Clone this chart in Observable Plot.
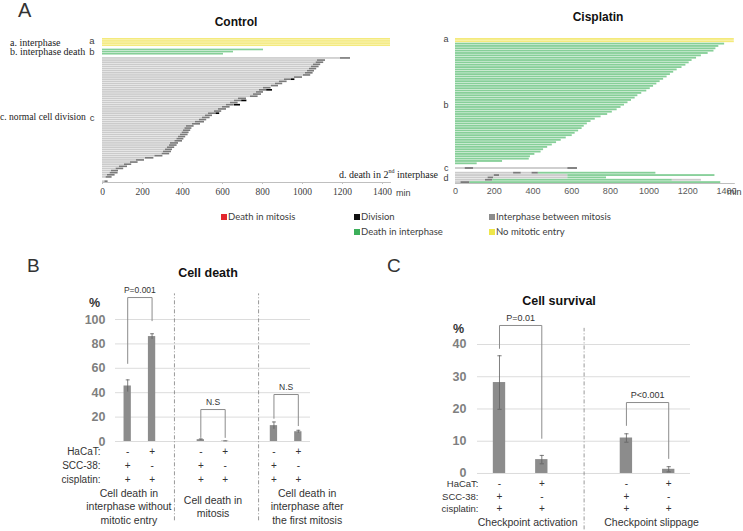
<!DOCTYPE html>
<html><head><meta charset="utf-8">
<script src="https://cdn.jsdelivr.net/npm/d3@7"></script>
<script src="https://cdn.jsdelivr.net/npm/@observablehq/plot@0.6"></script>
<style>
body{margin:0;background:#fff;}
#fig{position:relative;width:743px;height:531px;overflow:hidden;background:#fff;}
.abs{position:absolute;white-space:nowrap;line-height:1;}
</style></head><body><div id="fig"></div>
<script>
// ---------------- DATA ----------------
const minuteTicks = [0,200,400,600,800,1000,1200,1400];
const segKinds  = ["Death in mitosis","Division","Interphase between mitosis","Death in interphase","No mitotic entry","First interphase"];
const segColors = ["#e3262d","#000000","#7a7a7a","#86cf98","#f4ea7c","#cbcbcb"];
const legendColors = ["#e3262d","#111111","#8c8c8c","#3caf5a","#eee64a"];

// Control (panel A, left)
const ctrlNoEntry = [1440,1440,1440,1440];
const ctrlInterphaseDeath = [805,655,605];
const ctrlFirstInterphase = [1190,1075,1068,1055,1045,1035,1025,1015,1005,960,910,885,865,845,805,785,770,755,740,680,660,640,620,600,580,560,530,515,500,485,465,450,420,412,405,398,390,380,372,362,340,335,325,315,305,298,262,215,170,140,110,85,68,45,38,25,18];
const ctrlMitosisLen = [50,40,38,36,38,36,35,38,36,40,35,38,36,35,38,36,35,40,38,40,36,38,35,38,40,36,38,35,38,36,45,40,38,35,36,35,38,36,35,38,40,38,36,35,40,38,40,42,40,38,36,40,38,35,40,38,30];
const ctrlDivision = [[10,945,962],[15,821,850],[20,696,722],[22,658,690],[26,568,586]]; // [cell, start, end]
const ctrlDeath2nd = [[[0,12,"First interphase"],[12,28,"Interphase between mitosis"]]];

// Cisplatin (panel A, right)
const cisNoEntry = [1440,1440];
const cisInterphaseDeath = [1390,1360,1345,1335,1305,1270,1245,1222,1207,1190,1170,1145,1127,1110,1093,1075,1057,1040,1023,1006,988,962,942,928,909,891,873,855,835,810,786,752,722,700,681,665,654,636,618,603,572,546,522,500,476,455,442,410,387,381,243,112];
const cisDivision = [[[0,50,"First interphase"],[50,95,"Interphase between mitosis"],[95,580,"First interphase"],[580,630,"Interphase between mitosis"]]];
const cisDeath2nd = [
  [[0,300,"First interphase"],[300,340,"Interphase between mitosis"],[340,395,"First interphase"],[395,428,"Interphase between mitosis"],[428,1035,"Death in interphase"]],
  [[0,200,"First interphase"],[200,228,"Interphase between mitosis"],[228,580,"First interphase"],[580,1340,"Death in interphase"]],
  [[0,168,"First interphase"],[168,198,"Interphase between mitosis"],[198,580,"First interphase"],[580,780,"Death in interphase"]],
  [[0,155,"First interphase"],[155,192,"Interphase between mitosis"],[192,1120,"Death in interphase"],[1120,1270,"First interphase"]],
  [[0,28,"First interphase"],[28,75,"Interphase between mitosis"],[75,1370,"Death in interphase"]]
];

// Panel B
const bGroups = ["Cell death in\ninterphase without\nmitotic entry","Cell death in\nmitosis","Cell death in\ninterphase after\nthe first mitosis"];
const bTicks = [0,20,40,60,80,100];
const bMean = [45.5,86,1.5,0.3,13,8];
const bErr  = [5,2.3,0.6,0.2,3,1.2];
const bHaCaT = ["-","+","-","+","-","+"];
const bSCC   = ["+","-","+","-","+","-"];
const bCis   = ["+","+","+","+","+","+"];
const bPvals = ["P=0.001","N.S","N.S"];
const bBracketTop   = [118,26.2,38.5];
const bBracketLeft  = [64,3.3,19];
const bBracketRight = [99,3.3,13];

// Panel C
const cGroups = ["Checkpoint activation","Checkpoint slippage"];
const cTicks = [0,10,20,30,40];
const cMean = [28.2,4.3,11,1.3];
const cErr  = [8.3,1.3,1.3,0.8];
const cHaCaT = ["-","+","-","+"];
const cSCC   = ["+","-","+","-"];
const cCis   = ["+","+","+","+"];
const cPvals = ["P=0.01","P<0.001"];
const cBracketTop   = [45.9,22];
const cBracketLeft  = [38.8,14.9];
const cBracketRight = [10.9,4.65];

const rowNames = ["HaCaT:","SCC-38:","cisplatin:"];

// ---------------- HELPERS ----------------
const fig = document.getElementById("fig");
const SANS = "'Liberation Sans', Arial, sans-serif";
const SERIF = "'Liberation Serif', 'Times New Roman', serif";
function txt(html, x, y, o = {}) {
  const d = document.createElement("div");
  d.className = "abs";
  d.innerHTML = html;
  const a = o.anchor || "start";
  Object.assign(d.style, {
    left: x + "px", top: y + "px", fontSize: (o.size || 10) + "px",
    fontWeight: o.weight || "normal", fontFamily: o.family || SANS, color: o.color || "#333",
    transform: `translate(${a === "start" ? 0 : a === "middle" ? -50 : -100}%, -50%)`
  });
  fig.appendChild(d);
}
function put(svg, left, top) {
  svg.style.position = "absolute"; svg.style.left = left + "px"; svg.style.top = top + "px";
  fig.appendChild(svg);
}
const baseStyle = {background: "none", overflow: "visible", fontFamily: SANS};
const colorScale = {domain: segKinds, range: segColors};
const plain = d => String(d);

// ---------------- PANEL A : CONTROL ----------------
const ctrlKeys = [
  ...ctrlNoEntry.map((_, i) => "a" + i), "gap1",
  ...ctrlInterphaseDeath.map((_, i) => "b" + i), "gap2",
  ...ctrlFirstInterphase.map((_, i) => "c" + i), "gap3",
  ...ctrlDeath2nd.map((_, i) => "d" + i)
];
const ctrlSegs = [
  ...ctrlNoEntry.map((v, i) => ({row: "a" + i, x1: 0, x2: v, kind: "No mitotic entry"})),
  ...ctrlInterphaseDeath.map((v, i) => ({row: "b" + i, x1: 0, x2: v, kind: "Death in interphase"})),
  ...ctrlFirstInterphase.flatMap((v, i) => [
    {row: "c" + i, x1: 0, x2: v, kind: "First interphase"},
    {row: "c" + i, x1: v, x2: v + ctrlMitosisLen[i], kind: "Interphase between mitosis"}]),
  ...ctrlDivision.map(([i, s, e]) => ({row: "c" + i, x1: s, x2: e, kind: "Division"})),
  ...ctrlDeath2nd.flatMap((segs, i) => segs.map(([s, e, k]) => ({row: "d" + i, x1: s, x2: e, kind: k})))
];
put(Plot.plot({
  width: 440, height: 170, marginLeft: 102, marginRight: 50, marginTop: 8, marginBottom: 18,
  style: baseStyle,
  x: {domain: [0, 1440]},
  y: {type: "band", domain: ctrlKeys, paddingInner: 0.22, paddingOuter: 0, round: false},
  color: colorScale,
  marks: [
    Plot.barX(ctrlSegs, {y: "row", x1: "x1", x2: "x2", fill: "kind"}),
    Plot.frame({anchor: "bottom", stroke: "#bfbfbf"}),
    Plot.axisX({ticks: minuteTicks, tickFormat: plain, tickSize: 2, tickPadding: 4, fontFamily: SERIF, fontSize: 9.5, color: "#404040", stroke: "#bfbfbf", label: null}),
    Plot.axisY({ticks: ["a1", "b1", "c28"], tickFormat: k => k[0], tickSize: 0, tickPadding: 8, fontSize: 9.5, color: "#404040", label: null})
  ]
}), 0, 30);

// ---------------- PANEL A : CISPLATIN ----------------
const cisKeys = [
  ...cisNoEntry.map((_, i) => "a" + i),
  ...cisInterphaseDeath.map((_, i) => "b" + i), "gap1",
  ...cisDivision.map((_, i) => "c" + i), "gap2",
  ...cisDeath2nd.map((_, i) => "d" + i)
];
const cisSegs = [
  ...cisNoEntry.map((v, i) => ({row: "a" + i, x1: 0, x2: v, kind: "No mitotic entry"})),
  ...cisInterphaseDeath.map((v, i) => ({row: "b" + i, x1: 0, x2: v, kind: "Death in interphase"})),
  ...cisDivision.flatMap((segs, i) => segs.map(([s, e, k]) => ({row: "c" + i, x1: s, x2: e, kind: k}))),
  ...cisDeath2nd.flatMap((segs, i) => segs.map(([s, e, k]) => ({row: "d" + i, x1: s, x2: e, kind: k})))
];
put(Plot.plot({
  width: 303, height: 170, marginLeft: 15, marginRight: 9.2, marginTop: 8, marginBottom: 17,
  style: baseStyle,
  x: {domain: [0, 1440]},
  y: {type: "band", domain: cisKeys, paddingInner: 0.22, paddingOuter: 0, round: false},
  color: colorScale,
  marks: [
    Plot.barX(cisSegs, {y: "row", x1: "x1", x2: "x2", fill: "kind"}),
    Plot.frame({anchor: "bottom", stroke: "#bfbfbf"}),
    Plot.axisX({ticks: minuteTicks, tickFormat: plain, tickSize: 0, tickPadding: 4, fontSize: 9, color: "#595959", label: null}),
    Plot.axisY({ticks: ["a0", "b26", "c0", "d2"], tickFormat: k => k[0], tickSize: 0, tickPadding: 7, fontSize: 9, color: "#404040", label: null})
  ]
}), 440, 30);

// Panel A texts
txt("A", 18, 10, {size: 20});
txt("Control", 236, 22, {anchor: "middle", size: 12, weight: "bold", color: "#111"});
txt("Cisplatin", 598, 17, {anchor: "middle", size: 12, weight: "bold", color: "#111"});
txt("a. interphase", 10, 42.5, {family: SERIF, size: 10, color: "#222"});
txt("b. interphase death", 10, 51.5, {family: SERIF, size: 10, color: "#222"});
txt("c. normal cell division", 0, 117, {family: SERIF, size: 9.6, color: "#222"});
txt("d. death in 2<sup style='font-size:6px'>nd</sup> interphase", 438, 174, {anchor: "end", family: SERIF, size: 10, color: "#222"});
txt("min", 396, 193, {size: 9, color: "#404040"});
txt("min", 727, 192, {size: 9, color: "#404040"});

// Legend
const legendItems = [
  [segKinds[0], 0, 221, 217], [segKinds[1], 1, 354, 217], [segKinds[2], 2, 489, 217],
  [segKinds[3], 3, 354, 232], [segKinds[4], 4, 489, 232]
];
for (const [label, ci, x, y] of legendItems) {
  const sq = document.createElement("div");
  Object.assign(sq.style, {position: "absolute", left: x + "px", top: (y - 3) + "px", width: "6px", height: "6px", background: legendColors[ci]});
  fig.appendChild(sq);
  txt(label, x + 7, y, {family: "Lato, sans-serif", size: 9.5, color: "#404040"});
}

// ---------------- PANEL B ----------------
const bData = bMean.map((m, i) => ({slot: Math.floor(i / 2) * 3 + (i % 2), mean: m, err: bErr[i], hacat: bHaCaT[i], scc: bSCC[i], cis: bCis[i]}));
const bBr = bPvals.flatMap((p, g) => [
  {g, x: g * 3, y: bBracketLeft[g]}, {g, x: g * 3, y: bBracketTop[g]},
  {g, x: g * 3 + 1, y: bBracketTop[g]}, {g, x: g * 3 + 1, y: bBracketRight[g]}]);
const bP = bPvals.map((p, g) => ({p, x: g * 3 + 0.5, y: bBracketTop[g]}));
const bRowY = [-8.2, -20.3, -31.4];
const bSep = d3.range(1, bGroups.length).map(g => g * 3 - 1);
const bSepShift = [-2, 9];
const bLabelShift = [-11, 0, 21];
put(Plot.plot({
  width: 380, height: 251, marginLeft: 115, marginRight: 70, marginTop: 8.5, marginBottom: 4.6,
  style: baseStyle,
  x: {domain: [-0.5, 7.5], axis: null},
  y: {domain: [-70, 125]},
  marks: [
    Plot.ruleY(bTicks, {stroke: "#dcdcdc"}),
    ...bSep.map((s, k) => Plot.ruleX([s], {y1: -65, y2: 121, dx: bSepShift[k], stroke: "#7f7f7f", strokeWidth: 0.8, strokeDasharray: "4,2,1,2"})),
    Plot.rectY(bData, {x1: d => d.slot - 0.15, x2: d => d.slot + 0.15, y1: 0, y2: "mean", fill: "#8c8c8c"}),
    Plot.ruleX(bData, {x: "slot", y1: d => d.mean - d.err, y2: d => d.mean + d.err, stroke: "#5f5f5f", strokeWidth: 0.8}),
    Plot.link(bData, {x1: d => d.slot - 0.08, x2: d => d.slot + 0.08, y1: d => d.mean + d.err, y2: d => d.mean + d.err, stroke: "#5f5f5f", strokeWidth: 0.8}),
    Plot.line(bBr, {x: "x", y: "y", z: "g", stroke: "#8c8c8c", strokeWidth: 1}),
    Plot.text(bP, {x: "x", y: "y", text: "p", dy: -7, fontSize: 8.5, fill: "#333"}),
    Plot.axisY({ticks: bTicks, tickSize: 0, tickPadding: 10, fontSize: 12.5, fontWeight: "bold", color: "#7f7f7f", label: null}),
    Plot.text(rowNames, {frameAnchor: "left", y: (d, i) => bRowY[i], text: d => d, textAnchor: "end", dx: -15, fontSize: 10, fill: "#333"}),
    Plot.text(bData, {x: "slot", y: bRowY[0], text: "hacat", fontSize: 10, fill: "#333"}),
    Plot.text(bData, {x: "slot", y: bRowY[1], text: "scc", fontSize: 10, fill: "#333"}),
    Plot.text(bData, {x: "slot", y: bRowY[2], text: "cis", fontSize: 10, fill: "#333"}),
    ...bGroups.map((g, k) => Plot.text([g], {x: k * 3 + 0.5, y: -52.9, text: d => d, lineAnchor: "middle", lineHeight: 1.3, fontSize: 10.5, fill: "#333", dx: bLabelShift[k]}))
  ]
}), 0, 280);
txt("B", 27, 265, {size: 19});
txt("Cell death", 208, 273, {anchor: "middle", size: 12.5, weight: "bold", color: "#111"});
txt("%", 89, 303, {size: 12.5, weight: "bold", color: "#333"});

// ---------------- PANEL C ----------------
const cData = cMean.map((m, i) => ({slot: Math.floor(i / 2) * 3 + (i % 2), mean: m, err: cErr[i], hacat: cHaCaT[i], scc: cSCC[i], cis: cCis[i]}));
const cBr = cPvals.flatMap((p, g) => [
  {g, x: g * 3, y: cBracketLeft[g]}, {g, x: g * 3, y: cBracketTop[g]},
  {g, x: g * 3 + 1, y: cBracketTop[g]}, {g, x: g * 3 + 1, y: cBracketRight[g]}]);
const cP = cPvals.map((p, g) => ({p, x: g * 3 + 0.5, y: cBracketTop[g]}));
const cRowY = [-3.2, -7.3, -10.95];
const cSep = d3.range(1, cGroups.length).map(g => g * 3 - 1);
const cLabelShift = [7, 4];
put(Plot.plot({
  width: 363, height: 231, marginLeft: 97, marginRight: 53, marginTop: 11.75, marginBottom: 1.6,
  style: baseStyle,
  x: {domain: [-0.52, 4.515], axis: null},
  y: {domain: [-17.5, 50]},
  marks: [
    Plot.ruleY(cTicks, {stroke: "#dcdcdc"}),
    Plot.ruleX(cSep, {y1: -17.5, y2: 45, stroke: "#7f7f7f", strokeWidth: 0.8, strokeDasharray: "4,2,1,2"}),
    Plot.rectY(cData, {x1: d => d.slot - 0.146, x2: d => d.slot + 0.146, y1: 0, y2: "mean", fill: "#8c8c8c"}),
    Plot.ruleX(cData, {x: "slot", y1: d => d.mean - d.err, y2: d => d.mean + d.err, stroke: "#5f5f5f", strokeWidth: 0.8}),
    Plot.link(cData, {x1: d => d.slot - 0.05, x2: d => d.slot + 0.05, y1: d => d.mean + d.err, y2: d => d.mean + d.err, stroke: "#5f5f5f", strokeWidth: 0.8}),
    Plot.link(cData, {x1: d => d.slot - 0.05, x2: d => d.slot + 0.05, y1: d => d.mean - d.err, y2: d => d.mean - d.err, stroke: "#5f5f5f", strokeWidth: 0.8}),
    Plot.line(cBr, {x: "x", y: "y", z: "g", stroke: "#8c8c8c", strokeWidth: 1}),
    Plot.text(cP, {x: "x", y: "y", text: "p", dy: -7, fontSize: 9, fill: "#333"}),
    Plot.axisY({ticks: cTicks, tickSize: 0, tickPadding: 11, fontSize: 12.5, fontWeight: "bold", color: "#7f7f7f", label: null}),
    Plot.text(rowNames, {frameAnchor: "left", y: (d, i) => cRowY[i], text: d => d, textAnchor: "end", dx: 1, fontSize: 9.5, fill: "#333"}),
    Plot.text(cData, {x: "slot", y: cRowY[0], text: "hacat", fontSize: 10, fill: "#333"}),
    Plot.text(cData, {x: "slot", y: cRowY[1], text: "scc", fontSize: 10, fill: "#333"}),
    Plot.text(cData, {x: "slot", y: cRowY[2], text: "cis", fontSize: 10, fill: "#333"}),
    ...cGroups.map((g, k) => Plot.text([g], {x: k * 3 + 0.5, y: -15.1, text: d => d, fontSize: 10.5, fill: "#333", dx: cLabelShift[k]}))
  ]
}), 380, 300);
txt("C", 387, 265, {size: 19});
txt("Cell survival", 559, 301, {anchor: "middle", size: 12.5, weight: "bold", color: "#111"});
txt("%", 453, 329, {size: 12.5, weight: "bold", color: "#333"});
</script>
</body></html>
